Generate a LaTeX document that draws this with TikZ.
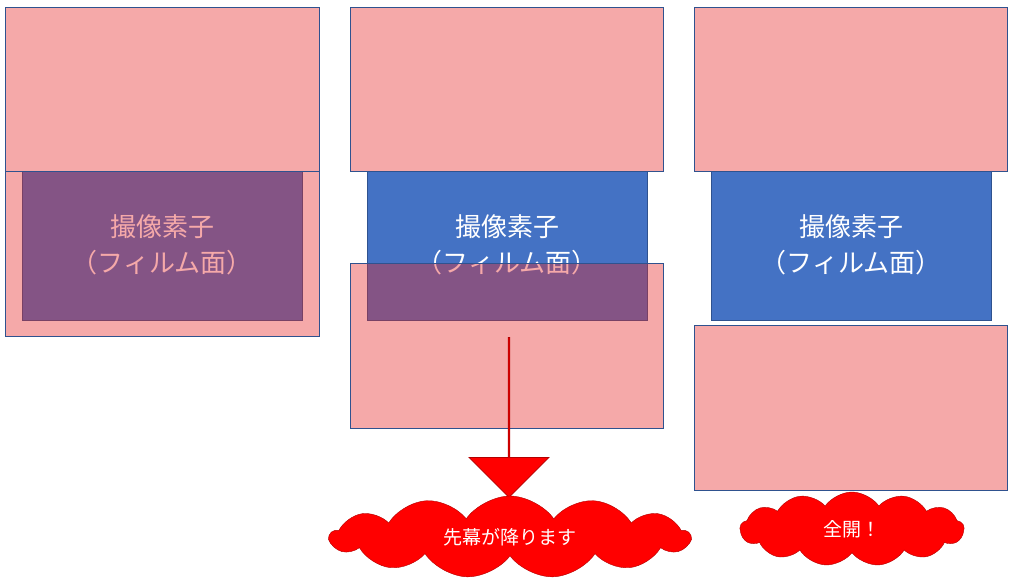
\documentclass[tikz,border=0pt]{standalone}
\usepackage{fontspec}
\newfontfamily\cjk{Noto Sans CJK JP}
\usetikzlibrary{shapes.symbols,shapes.arrows}
\definecolor{pk}{RGB}{230,40,40}
\definecolor{bd}{RGB}{47,82,143}
\definecolor{sb}{RGB}{68,114,196}
\definecolor{rd}{RGB}{255,0,0}
\begin{document}
\begin{tikzpicture}[x=1pt,y=-1pt,
 shut/.style={draw=bd,line width=0.8pt,fill=pk,fill opacity=0.4,draw opacity=1},
 sens/.style={draw=bd,line width=0.8pt,fill=sb},
 lab/.style={text=white,font=\cjk\fontsize{26}{36}\selectfont,align=center},
 cl/.style={cloud,cloud puffs=13,cloud puff arc=110,aspect=4,draw=rd!70!black,fill=rd,text=white,font=\cjk\fontsize{19}{22}\selectfont,inner sep=0pt}]
\useasboundingbox (0,0) rectangle (1024,582);
% panel 1
\node[sens,minimum width=280,minimum height=149,inner sep=0,anchor=north west] (s1) at (22,171) {};
\node[lab] (t1) at (162,245) {撮像素子\\（フィルム面）};
\draw[shut] (5,7) rectangle (319,171);
\draw[shut] (5,171) rectangle (319,336);
% panel 2
\node[sens,minimum width=280,minimum height=149,inner sep=0,anchor=north west] (s2) at (367,171) {};
\node[lab] (t2) at (507,245) {撮像素子\\（フィルム面）};
\draw[shut] (350,7) rectangle (663,171);
\draw[shut] (350,263) rectangle (663,428);
\node[draw=rd!70!black,fill=rd,line width=0.8pt,single arrow,shape border rotate=270,minimum width=80,minimum height=160,single arrow head extend=20,inner sep=0,single arrow tip angle=90] (ar) at (509,417) {};
\node[cl,minimum width=360,minimum height=82] (c2) at (510,537) {先幕が降ります};
% panel 3
\node[sens,minimum width=280,minimum height=149,inner sep=0,anchor=north west] (s3) at (711,171) {};
\node[lab] (t3) at (851,245) {撮像素子\\（フィルム面）};
\draw[shut] (694,7) rectangle (1007,171);
\draw[shut] (694,325) rectangle (1007,490);
\node[cl,minimum width=224,minimum height=74] (c3) at (852,529) {全開！};
\end{tikzpicture}
\end{document}
